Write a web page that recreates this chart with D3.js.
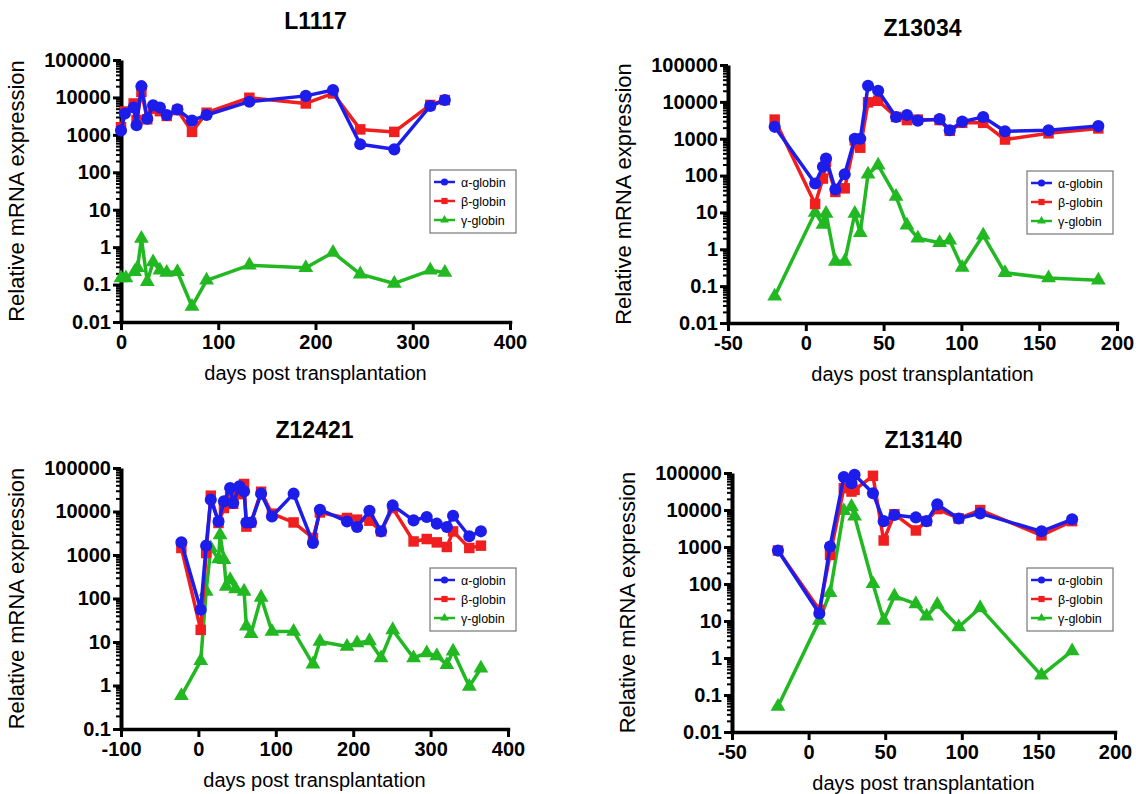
<!DOCTYPE html>
<html>
<head>
<meta charset="utf-8">
<script src="https://cdn.jsdelivr.net/npm/d3@7"></script>
<style>
body { margin: 0; background: #fff; }
text { font-family: Arial, "Liberation Sans", Helvetica, sans-serif; }
</style>
</head>
<body>
<div id="chart"></div>
<script>
// ---- data ----
var geneNames = ["α-globin", "β-globin", "γ-globin"];

var l1117Days  = [0, 4, 13, 16, 21, 27, 33, 40, 47, 58, 73, 88, 132, 190, 218, 246, 281, 318, 333];
var l1117Alpha = [1300, 3700, 5400, 1800, 20000, 2700, 6200, 5400, 3400, 4800, 2400, 3400, 7700, 11000, 15800, 560, 410, 5900, 8500];
var l1117Beta  = [1600, 4200, 6900, 2500, 14000, 2600, 5000, 4300, 3200, 4600, 1200, 3900, 9800, 6900, 12800, 1400, 1200, 6300, 8500];
var l1117GammaDays = [0, 5, 14, 17, 21, 27, 33, 40, 47, 58, 73, 88, 132, 190, 218, 246, 281, 318, 333];
var l1117Gamma = [0.15, 0.15, 0.22, 0.28, 1.7, 0.12, 0.4, 0.24, 0.21, 0.22, 0.026, 0.13, 0.33, 0.28, 0.72, 0.19, 0.107, 0.24, 0.21];

var z13034Days  = [-20, 6, 11, 13, 19, 25, 31.5, 35, 40, 46.5, 58, 65, 72, 86, 92.5, 100.5, 114, 128, 156, 188];
var z13034Alpha = [2100, 61, 173, 290, 42, 109, 1000, 1000, 27400, 20000, 3900, 4400, 3100, 3400, 1700, 2900, 3900, 1600, 1700, 2200];
var z13034Beta  = [3300, 17, 83, 236, 36, 45, 900, 570, 9700, 10700, 3900, 3200, 3300, 3200, 1640, 2700, 2700, 950, 1400, 1900];
var z13034Gamma = [0.053, 10, 4.7, 9.3, 0.47, 0.47, 9.3, 2.8, 109, 190, 27, 4.5, 2.0, 1.5, 1.75, 0.32, 2.4, 0.23, 0.166, 0.144];

var z12421Days  = [-22, 3, 10, 16, 26, 33, 41, 45, 53, 59, 62, 68, 81, 95, 123, 148, 157, 192, 205, 221, 236, 251, 278, 295, 308, 321, 329, 350, 365];
var z12421Alpha = [1950, 55, 1640, 18700, 5900, 17100, 34700, 15700, 37800, 29000, 5600, 5600, 25700, 7700, 25700, 1900, 11000, 5900, 4400, 10400, 3500, 13800, 6250, 7460, 5250, 4400, 8000, 2700, 3500];
var z12421Beta  = [1450, 19, 1110, 23100, 5450, 12000, 22300, 15000, 25000, 42900, 4500, 5600, 28500, 8900, 5600, 2460, 9500, 7100, 6500, 6150, 3500, 12000, 2050, 2330, 1950, 1530, 3490, 1450, 1640];
var z12421GammaDays = [-22, 3, 10, 16, 26, 28, 33, 36, 41, 48, 59, 62, 68, 81, 95, 123, 148, 157, 192, 205, 221, 236, 251, 278, 295, 308, 321, 329, 350, 365];
var z12421Gamma = [0.58, 3.7, 146, 1450, 810, 2900, 780, 190, 270, 165, 146, 23, 15.5, 106, 17.5, 17.5, 3.1, 10.3, 7.9, 9.5, 10.6, 4.3, 19, 4.3, 5.6, 4.8, 3.0, 6.1, 0.95, 2.5];

var z13140Days  = [-20, 7, 14, 23, 28, 30, 42, 49, 56, 70, 77, 84, 98, 112, 152, 172];
var z13140Alpha = [800, 16, 1030, 78000, 53000, 90000, 28400, 5000, 7300, 6300, 5000, 14200, 5900, 8100, 2650, 5600];
var z13140Beta  = [800, 20, 610, 39000, 31500, 35000, 84000, 1500, 7700, 2800, 5000, 10600, 5900, 9950, 2060, 5000];
var z13140Gamma = [0.049, 10.4, 58, 9500, 12300, 6800, 102, 10.4, 47, 29, 13.4, 28, 6.9, 22.6, 0.34, 1.55];

var ticksA = [0, 100, 200, 300, 400];
var ticksB = [-50, 0, 50, 100, 150, 200];
var ticksC = [-100, 0, 100, 200, 300, 400];

// ---- layout ----
var colors = ["#1c1ceb", "#f01e1e", "#22b822"];
var shapes = [d3.symbolCircle, d3.symbolSquare, d3.symbolTriangle];
var sizes = [115, 110, 95];

function pairs(days, vals) {
  return days.map(function(d, i) { return {day: d, val: vals[i]}; });
}

var panels = [
  {title: "L1117", left: 121, right: 510, top: 60, bottom: 322, xd: [0, 400], xt: ticksA, yd: [0.01, 1e5],
   lx: 430, ly: 170, ty: 29,
   series: [pairs(l1117Days, l1117Alpha), pairs(l1117Days, l1117Beta), pairs(l1117GammaDays, l1117Gamma)]},
  {title: "Z13034", left: 728, right: 1117, top: 65, bottom: 323, xd: [-50, 200], xt: ticksB, yd: [0.01, 1e5],
   lx: 1027, ly: 171, ty: 36,
   series: [pairs(z13034Days, z13034Alpha), pairs(z13034Days, z13034Beta), pairs(z13034Days, z13034Gamma)]},
  {title: "Z12421", left: 121, right: 508, top: 468, bottom: 729, xd: [-100, 400], xt: ticksC, yd: [0.1, 1e5],
   lx: 430, ly: 568, ty: 438,
   series: [pairs(z12421Days, z12421Alpha), pairs(z12421Days, z12421Beta), pairs(z12421GammaDays, z12421Gamma)]},
  {title: "Z13140", left: 732, right: 1115, top: 473, bottom: 732, xd: [-50, 200], xt: ticksB, yd: [0.01, 1e5],
   lx: 1027, ly: 568, ty: 448,
   series: [pairs(z13140Days, z13140Alpha), pairs(z13140Days, z13140Beta), pairs(z13140Days, z13140Gamma)]}
];

var svg = d3.select("#chart").append("svg")
  .attr("width", 1136)
  .attr("height", 794);

var fmt = function(d) { return d >= 1 ? d3.format("d")(d) : String(d); };

panels.forEach(function(p) {
  var x = d3.scaleLinear().domain(p.xd).range([p.left, p.right]);
  var y = d3.scaleLog().domain(p.yd).range([p.bottom, p.top]);
  var g = svg.append("g");

  var lo = Math.round(Math.log10(p.yd[0])), hi = Math.round(Math.log10(p.yd[1]));
  var majors = d3.range(lo, hi + 1).map(function(e) { return +Math.pow(10, e).toPrecision(1); });
  var minors = [];
  for (var e = lo; e < hi; e++) {
    for (var k = 2; k <= 9; k++) minors.push(k * Math.pow(10, e));
  }

  // minor ticks
  g.append("g")
    .attr("transform", "translate(" + p.left + ",0)")
    .call(d3.axisLeft(y).tickValues(minors).tickFormat("").tickSize(5).tickSizeOuter(0))
    .call(function(a) { a.select(".domain").remove(); })
    .selectAll("line").attr("stroke-width", 2);

  var ya = g.append("g")
    .attr("transform", "translate(" + p.left + ",0)")
    .call(d3.axisLeft(y).tickValues(majors).tickFormat(fmt).tickSize(8).tickSizeOuter(0).tickPadding(2));
  ya.select(".domain").attr("stroke-width", 4);
  ya.selectAll("line").attr("stroke-width", 3);
  ya.selectAll("text").attr("font-size", 20).attr("font-weight", "bold").attr("fill", "#000");

  var xa = g.append("g")
    .attr("transform", "translate(0," + p.bottom + ")")
    .call(d3.axisBottom(x).tickValues(p.xt).tickFormat(function(d) { return String(d); })
      .tickSize(8).tickSizeOuter(0).tickPadding(5));
  xa.select(".domain").attr("stroke-width", 3.5).attr("stroke-linecap", "square");
  xa.selectAll("line").attr("stroke-width", 3);
  xa.selectAll("text").attr("font-size", 20).attr("font-weight", "bold").attr("fill", "#000");

  // titles
  g.append("text")
    .attr("x", (p.left + p.right) / 2)
    .attr("y", p.ty)
    .attr("text-anchor", "middle")
    .attr("font-size", 23)
    .attr("font-weight", "bold")
    .text(p.title);

  g.append("text")
    .attr("x", (p.left + p.right) / 2)
    .attr("y", p.bottom + 58)
    .attr("text-anchor", "middle")
    .attr("font-size", 20)
    .text("days post transplantation");

  g.append("text")
    .attr("transform", "translate(" + (p.left - 97) + "," + ((p.top + p.bottom) / 2) + ") rotate(-90)")
    .attr("text-anchor", "middle")
    .attr("font-size", 22)
    .text("Relative mRNA expression");

  // series, gamma first so alpha sits on top
  var line = d3.line().x(function(d) { return x(d.day); }).y(function(d) { return y(d.val); });
  [2, 1, 0].forEach(function(i) {
    g.append("path")
      .datum(p.series[i])
      .attr("fill", "none")
      .attr("stroke", colors[i])
      .attr("stroke-width", 3.5)
      .attr("stroke-linejoin", "round")
      .attr("d", line);
    g.selectAll(".m" + i)
      .data(p.series[i])
      .enter().append("path")
      .attr("class", "m" + i)
      .attr("transform", function(d) { return "translate(" + x(d.day) + "," + y(d.val) + ")"; })
      .attr("d", d3.symbol().type(shapes[i]).size(sizes[i]))
      .attr("fill", colors[i]);
  });

  // legend
  var lg = g.append("g").attr("transform", "translate(" + p.lx + "," + p.ly + ")");
  lg.append("rect")
    .attr("width", 86).attr("height", 63)
    .attr("fill", "#fff").attr("stroke", "#777").attr("stroke-width", 1.2);
  geneNames.forEach(function(n, i) {
    var ry = 12 + i * 19;
    lg.append("line")
      .attr("x1", 4).attr("x2", 25).attr("y1", ry).attr("y2", ry)
      .attr("stroke", colors[i]).attr("stroke-width", 2.5);
    lg.append("path")
      .attr("transform", "translate(14.5," + ry + ")")
      .attr("d", d3.symbol().type(shapes[i]).size(sizes[i] * 0.35))
      .attr("fill", colors[i]);
    lg.append("text")
      .attr("x", 31).attr("y", ry + 4.5)
      .attr("font-size", 12.5)
      .text(n);
  });
});
</script>
</body>
</html>
